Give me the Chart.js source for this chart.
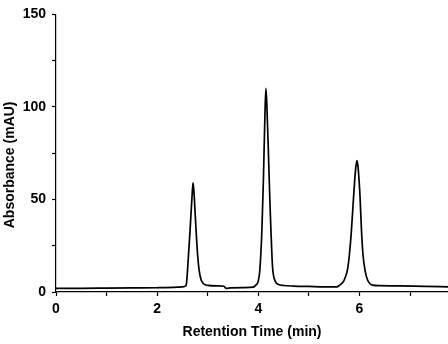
<!DOCTYPE html>
<html>
<head>
<meta charset="utf-8">
<script src="https://cdn.jsdelivr.net/npm/chart.js@4/dist/chart.umd.min.js"></script>
<style>
html,body{margin:0;padding:0;background:#fff;}
#wrap{width:448px;height:344px;position:relative;}
</style>
</head>
<body>
<div id="wrap"><canvas id="c" width="448" height="344"></canvas></div>
<script>
// Retention time (min)
const times = [
  0.00, 0.50, 1.00, 1.50, 2.00, 2.40, 2.50, 2.56, 2.58, 2.60, 2.65, 2.69, 2.71,
  2.73, 2.75, 2.77, 2.80, 2.83, 2.87, 2.92, 3.00, 3.20, 3.32, 3.36, 3.45, 3.70, 3.90,
  3.95, 4.00, 4.03, 4.07, 4.10, 4.13, 4.15, 4.17, 4.20, 4.23, 4.25, 4.28, 4.30, 4.34, 4.40,
  4.50, 4.70, 5.00, 5.30, 5.55, 5.61, 5.68, 5.72, 5.76, 5.80, 5.84, 5.88, 5.91, 5.93,
  5.95, 5.97, 5.99, 6.01, 6.04, 6.07, 6.11, 6.16, 6.26, 6.40, 6.80, 7.30, 7.75
];
// Absorbance (mAU)
const absorbance = [
  2.0, 2.0, 2.1, 2.2, 2.3, 2.6, 2.8, 3.2, 4.6, 11.7, 33, 52, 59,
  53, 43, 33, 20, 11.7, 6.5, 4.4, 3.6, 3.3, 3.1, 2.0, 2.2, 2.4, 2.6,
  3.7, 6.0, 12, 33, 60, 95, 110, 100, 75, 48, 33, 14, 9.0, 5.5, 4.0,
  3.5, 3.2, 3.0, 2.8, 2.8, 3.7, 5.5, 8.0, 11.7, 20, 33, 50, 62, 68,
  71, 68, 61, 52, 33, 20, 11.7, 6.5, 3.7, 3.4, 3.3, 3.0, 2.8
];
const xTickLabels = ['0', '', '2', '', '4', '', '6', ''];
const yTickLabels = ['0', '', '50', '', '100', '', '150'];
const xTitle = 'Retention Time (min)';
const yTitle = 'Absorbance (mAU)';

const pts = times.map((t, i) => ({x: t, y: absorbance[i]}));
const font = {family: '"Liberation Sans", Arial, sans-serif', size: 14, weight: 'bold'};

new Chart(document.getElementById('c'), {
  type: 'line',
  data: {datasets: [{data: pts, borderColor: '#000', borderWidth: 1.7, pointRadius: 0, cubicInterpolationMode: 'monotone', fill: false}]},
  options: {
    responsive: false,
    animation: false,
    layout: {padding: {top: 4, right: 0, left: 0, bottom: 0}},
    plugins: {legend: {display: false}, tooltip: {enabled: false}},
    scales: {
      x: {
        type: 'linear', min: 0, max: 7.75,
        border: {color: '#000', width: 1.2},
        grid: {drawOnChartArea: false, color: '#000', tickLength: 4, tickWidth: 1.2},
        ticks: {stepSize: 1, includeBounds: false, color: '#000', font: font, padding: 5, maxRotation: 0,
          callback: (v) => xTickLabels[Math.round(v)] ?? ''},
        title: {display: true, text: xTitle, color: '#000', font: font, padding: {top: 4, bottom: 3}},
        afterFit: (s) => { s.height = 52; }
      },
      y: {
        min: 0, max: 150,
        border: {color: '#000', width: 1.2},
        grid: {drawOnChartArea: false, color: '#000', tickLength: 4, tickWidth: 1.2},
        ticks: {stepSize: 25, color: '#000', font: font, padding: 6,
          callback: (v) => yTickLabels[Math.round(v / 25)] ?? ''},
        title: {display: true, text: yTitle + '      ', color: '#000', font: font, padding: {top: 2, bottom: 0}},
        afterFit: (s) => { s.width = 56; }
      }
    }
  }
});
</script>
</body>
</html>
